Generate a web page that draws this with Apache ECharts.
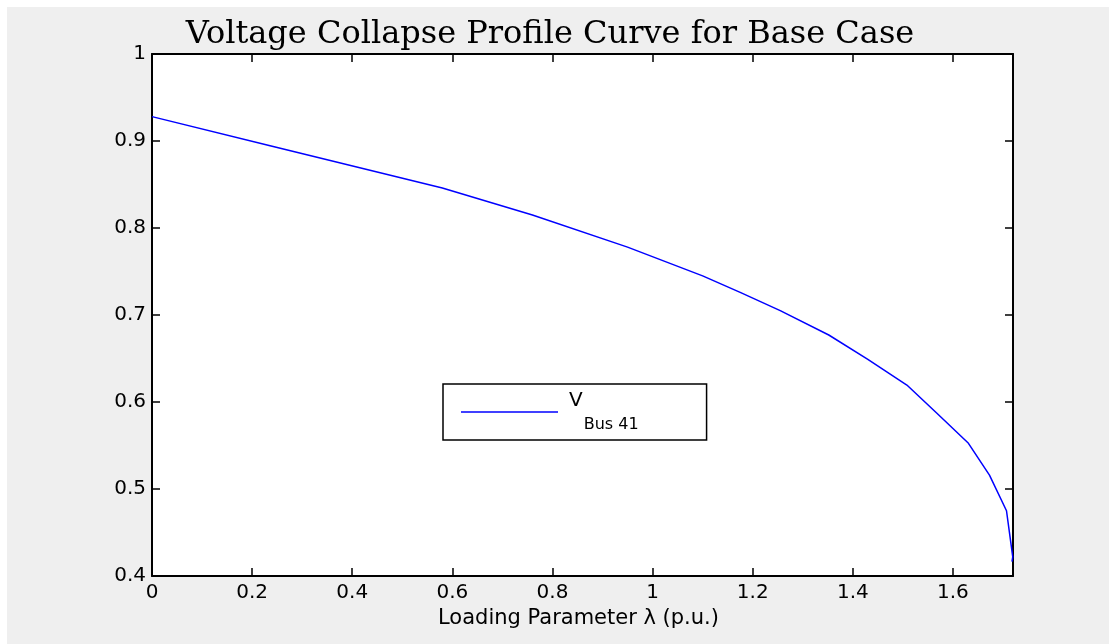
<!DOCTYPE html>
<html>
<head>
<meta charset="utf-8">
<script src="https://cdn.jsdelivr.net/npm/echarts@6/dist/echarts.min.js"></script>
<style>
  html, body { margin: 0; padding: 0; background: #ffffff; }
  #chart { position: absolute; left: 7px; top: 7px; width: 1102px; height: 637px; }
</style>
</head>
<body>
<div id="chart"></div>
<script>
// Continuation power flow result: bus 41 voltage vs loading parameter
const lambdaPU = [0, 0.24, 0.58, 0.76, 0.95, 1.10, 1.175, 1.255, 1.352, 1.43, 1.508, 1.568, 1.631, 1.673, 1.707, 1.7195, 1.718];
const voltageBus41 = [0.928, 0.894, 0.846, 0.815, 0.778, 0.745, 0.726, 0.705, 0.677, 0.649, 0.6195, 0.587, 0.5525, 0.516, 0.475, 0.422, 0.4165];

const xTicks = [0, 0.2, 0.4, 0.6, 0.8, 1, 1.2, 1.4, 1.6];
const yTicks = [0.4, 0.5, 0.6, 0.7, 0.8, 0.9, 1];

const titleText = 'Voltage Collapse Profile Curve for Base Case';
const xName = 'Loading Parameter \u03bb (p.u.)';
const seriesName = 'V Bus 41';

const sans = 'DejaVu Sans';
const black = '#000000';

const chart = echarts.init(document.getElementById('chart'), null, { renderer: 'canvas' });

function edgeAxis(position, ticks, min, max, showLabels) {
  return {
    type: 'value',
    position: position,
    min: min,
    max: max,
    splitLine: { show: false },
    axisLine: { show: true, onZero: false, lineStyle: { color: black, width: 2 } },
    axisTick: { show: true, inside: true, length: 8, customValues: ticks, lineStyle: { color: black, width: 1.5 } },
    axisLabel: showLabels
      ? { show: true, customValues: ticks, color: black, fontFamily: sans, fontSize: 20, margin: 6 }
      : { show: false }
  };
}

const xBottom = edgeAxis('bottom', xTicks, 0, 1.72, true);
xBottom.name = xName;
xBottom.nameLocation = 'middle';
xBottom.nameGap = 31;
xBottom.nameTextStyle = { color: black, fontFamily: sans, fontSize: 21, padding: [0, 8, 0, 0] };
xBottom.axisLabel.margin = 7;

chart.setOption({
  animation: false,
  backgroundColor: '#efefef',
  title: {
    text: titleText,
    left: 543,
    top: 12,
    padding: 0,
    textAlign: 'center',
    textStyle: { fontFamily: 'DejaVu Serif', fontWeight: 'normal', fontSize: 32, color: black }
  },
  grid: { left: 145, top: 47, right: 96, bottom: 68, show: true, backgroundColor: '#ffffff', borderWidth: 0 },
  legend: {
    data: [seriesName],
    left: 436,
    top: 377,
    orient: 'vertical',
    backgroundColor: '#ffffff',
    borderColor: black,
    borderWidth: 1.5,
    borderRadius: 0,
    padding: [7, 68, 7, 18],
    icon: 'rect',
    itemWidth: 97,
    itemHeight: 1.5,
    itemStyle: { color: '#0000ff' },
    selectedMode: false,
    formatter: function () { return '{v|V}{s|Bus 41}'; },
    textStyle: {
      color: black,
      fontFamily: sans,
      rich: {
        v: { fontFamily: sans, fontSize: 20, lineHeight: 20, color: black, padding: [0, 0, 22, 6] },
        s: { fontFamily: sans, fontSize: 16, lineHeight: 16, color: black, padding: [26, 0, 0, 1] }
      }
    }
  },
  xAxis: [xBottom, edgeAxis('top', xTicks, 0, 1.72, false)],
  yAxis: [edgeAxis('left', yTicks, 0.4, 1, true), edgeAxis('right', yTicks, 0.4, 1, false)],
  series: [{
    name: seriesName,
    type: 'line',
    xAxisIndex: 0,
    yAxisIndex: 0,
    symbol: 'none',
    showSymbol: false,
    clip: false,
    lineStyle: { color: '#0000ff', width: 1.5 },
    itemStyle: { color: '#0000ff' },
    data: lambdaPU.map(function (x, i) { return [x, voltageBus41[i]]; })
  }]
});
</script>
</body>
</html>
